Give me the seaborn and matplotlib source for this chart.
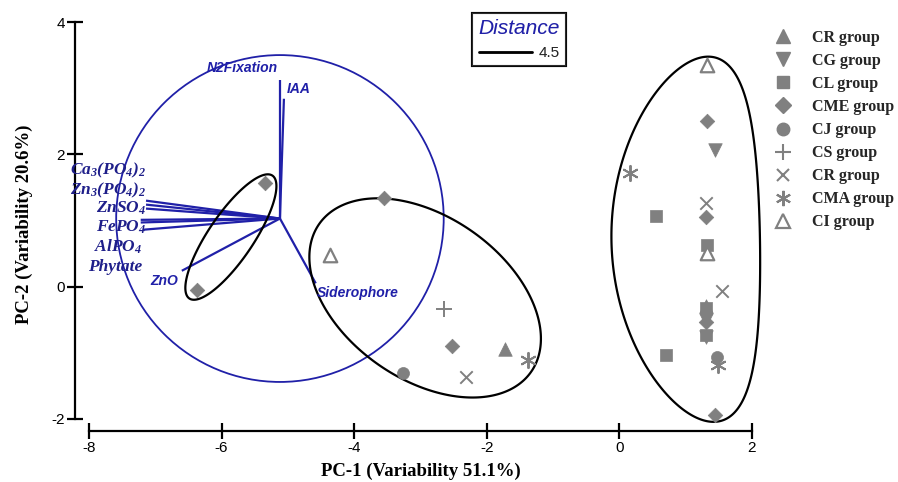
import matplotlib
matplotlib.use("Agg")
import matplotlib.pyplot as plt
import seaborn as sns
import pandas as pd
import numpy as np
from matplotlib.patches import Ellipse, Polygon
from matplotlib.lines import Line2D

# ---------------- data ----------------
group_keys = ["CR_tri", "CG", "CL", "CME", "CJ", "CS", "CR_x", "CMA", "CI"]
group_labels = ["CR group", "CG group", "CL group", "CME group", "CJ group",
                "CS group", "CR group", "CMA group", "CI group"]

point_group = ["CME", "CME",
               "CME", "CI", "CS", "CME", "CR_tri", "CMA", "CJ", "CR_x",
               "CI", "CME", "CG", "CMA", "CR_x", "CME", "CL", "CL", "CI", "CR_x",
               "CL", "CR_tri", "CME", "CG", "CL", "CG", "CL", "CJ", "CMA", "CME"]
pc1 = [-5.35, -6.37,
       -3.55, -4.37, -2.65, -2.52, -1.73, -1.38, -3.26, -2.31,
       1.32, 1.32, 1.44, 0.16, 1.30, 1.30, 0.55, 1.32, 1.32, 1.55,
       1.30, 1.30, 1.30, 1.30, 1.30, 1.30, 0.70, 1.47, 1.49, 1.44]
pc2 = [1.57, -0.05,
       1.34, 0.48, -0.34, -0.90, -0.94, -1.11, -1.30, -1.37,
       3.35, 2.50, 2.07, 1.72, 1.26, 1.06, 1.07, 0.63, 0.51, -0.07,
       -0.32, -0.29, -0.53, -0.50, -0.73, -0.76, -1.03, -1.06, -1.18, -1.94]

# loading vectors (drawn from the biplot origin)
var_names = ["N2Fixation", "IAA", "Siderophore", "ZnO",
             r"$Ca_3(PO_4)_2$", r"$Zn_3(PO_4)_2$", r"$ZnSO_4$",
             r"$FePO_4$", r"$AlPO_4$", "Phytate"]
load_x = [0.00, 0.06, 0.54, -1.48, -2.02, -2.02, -2.02, -2.10, -2.10, -2.07]
load_y = [2.09, 1.81, -0.98, -0.79, 0.27, 0.21, 0.15, -0.02, -0.06, -0.17]
origin = (-5.12, 1.03)
circle_r = 2.47

# cluster contours: centre x, centre y, semi-major, semi-minor, angle, bend
ell_cx = [-5.86, -2.93, 1.00]
ell_cy = [0.75, -0.17, 0.71]
ell_a = [1.12, 1.95, 2.76]
ell_b = [0.34, 1.23, 1.12]
ell_ang = [56, -35, 91]
ell_bend = [0.0, 0.0, -0.38]

x_ticks = [-8, -6, -4, -2, 0, 2]
y_ticks = [-2, 0, 2, 4]

# ---------------- style ----------------
sns.set_theme(style="white")
plt.rcParams["font.family"] = ["Liberation Sans", "DejaVu Sans"]
plt.rcParams["mathtext.fontset"] = "custom"
plt.rcParams["mathtext.it"] = "Liberation Serif:italic:bold"
plt.rcParams["mathtext.rm"] = "Liberation Serif:italic:bold"
plt.rcParams["mathtext.bf"] = "Liberation Serif:italic:bold"

GREY = "#808080"
BLUE = "#2020a8"
NAVY = "#1f1f8a"

marker_spec = {
    "CR_tri": dict(marker="^", s=95, filled=True),
    "CG": dict(marker="v", s=95, filled=True),
    "CL": dict(marker="s", s=85, filled=True),
    "CME": dict(marker="D", s=55, filled=True),
    "CJ": dict(marker="o", s=75, filled=True),
    "CS": dict(marker="+", s=120, filled=False),
    "CR_x": dict(marker="x", s=80, filled=False),
    "CMA": dict(marker=(6, 2, 0), s=120, filled=False),
    "CI": dict(marker="^", s=95, filled="open"),
}

df = pd.DataFrame({"PC1": pc1, "PC2": pc2, "group": point_group})

fig = plt.figure(figsize=(8.98, 4.82), dpi=100)
W, H = 898, 482
ax = fig.add_axes([89 / W, (H - 419) / H, (752 - 89) / W, (419 - 22) / H])

# biplot circle and vectors
ax.add_patch(Ellipse(origin, 2 * circle_r, 2 * circle_r, fill=False,
                     edgecolor=BLUE, lw=1.3, zorder=1, clip_on=False))
for i, name in enumerate(var_names):
    ax.plot([origin[0], origin[0] + load_x[i]], [origin[1], origin[1] + load_y[i]],
            color=BLUE, lw=1.6, zorder=2, solid_capstyle="butt")

# cluster contours
t = np.linspace(0, 2 * np.pi, 400)
for cx, cy, a, b, ang, bend in zip(ell_cx, ell_cy, ell_a, ell_b, ell_ang, ell_bend):
    u = a * np.cos(t)
    v = b * np.sin(t) + bend * np.cos(t) ** 2
    th = np.deg2rad(ang)
    xs = cx + u * np.cos(th) - v * np.sin(th)
    ys = cy + u * np.sin(th) + v * np.cos(th)
    ax.add_patch(Polygon(np.column_stack([xs, ys]), closed=True, fill=False,
                         edgecolor="black", lw=1.6, zorder=3, clip_on=False))

# points
for key in group_keys:
    sub = df[df["group"] == key]
    if sub.empty:
        continue
    spec = marker_spec[key]
    if spec["filled"] is True:
        sns.scatterplot(data=sub, x="PC1", y="PC2", marker=spec["marker"], s=spec["s"],
                        color=GREY, edgecolor=GREY, linewidth=0.5, ax=ax, zorder=5,
                        clip_on=False, legend=False)
    elif spec["filled"] == "open":
        sns.scatterplot(data=sub, x="PC1", y="PC2", marker=spec["marker"], s=spec["s"],
                        color="white", edgecolor=GREY, linewidth=1.6, ax=ax, zorder=5,
                        clip_on=False, legend=False)
    else:
        sns.scatterplot(data=sub, x="PC1", y="PC2", marker=spec["marker"], s=spec["s"],
                        color=GREY, linewidth=1.4, ax=ax, zorder=5,
                        clip_on=False, legend=False)

# variable labels
sans_lab = dict(family="Liberation Sans", style="italic", weight="bold", size=10, color=BLUE)
ends_x = [origin[0] + v for v in load_x]
ends_y = [origin[1] + v for v in load_y]
ax.text(ends_x[0] - 0.03, ends_y[0] + 0.18, var_names[0], ha="right", va="center", **sans_lab)
ax.text(ends_x[1] + 0.05, ends_y[1] + 0.15, var_names[1], ha="left", va="center", **sans_lab)
ax.text(ends_x[2] + 0.02, ends_y[2] - 0.14, var_names[2], ha="left", va="center", **sans_lab)
ax.text(ends_x[3] - 0.06, ends_y[3] - 0.15, var_names[3], ha="right", va="center", **sans_lab)

serif_lab = dict(family="Liberation Serif", style="italic", weight="bold", size=12.5, color=NAVY)
label_x = [-7.14, -7.14, -7.14, -7.14, -7.2, -7.2]
label_y = [1.75, 1.46, 1.19, 0.90, 0.60, 0.30]
for name, lx, ly in zip(var_names[4:], label_x, label_y):
    ax.text(lx, ly, name, ha="right", va="center", **serif_lab)

# axes
ax.set_xlim(-8, 2)
ax.set_ylim(-2, 4)
ax.set_xticks(x_ticks)
ax.set_yticks(y_ticks)
ax.set_xticklabels([str(t) for t in x_ticks])
ax.set_yticklabels([str(t) for t in y_ticks])
for side in ["top", "right"]:
    ax.spines[side].set_visible(False)
ax.spines["left"].set_position(("outward", 10))
ax.spines["bottom"].set_position(("outward", 8.6))
for side in ["left", "bottom"]:
    ax.spines[side].set_linewidth(1.6)
    ax.spines[side].set_color("black")
ax.tick_params(axis="both", which="major", direction="inout", length=11, width=1.6,
               labelsize=11, colors="black", pad=2, left=True, bottom=True)
ax.set_xlabel("PC-1 (Variability 51.1%)", family="Liberation Serif", weight="bold",
              size=13.5, color="black")
ax.set_ylabel("PC-2 (Variability 20.6%)", family="Liberation Serif", weight="bold",
              size=13.5, color="black")
ax.xaxis.set_label_coords(0.5, -0.11)
ax.yaxis.set_label_coords(-0.085, 0.49)
ax.grid(False)
ax.set_facecolor("white")

# distance legend
dist_leg = ax.legend([Line2D([], [], color="black", lw=2)], ["4.5"], title="Distance",
                     loc="upper left", bbox_to_anchor=(472 / W, 1 - 13 / H),
                     bbox_transform=fig.transFigure, frameon=True, fancybox=False,
                     edgecolor="black", fontsize=11, handlelength=3.5, handletextpad=0.4,
                     borderpad=0.42, borderaxespad=0,
                     title_fontproperties={"family": "Liberation Sans", "style": "italic",
                                           "size": 15})
dist_leg.get_title().set_color(BLUE)
dist_leg.get_frame().set_linewidth(1.5)
ax.add_artist(dist_leg)

# group legend
handles = []
for key in group_keys:
    spec = marker_spec[key]
    ms = {"D": 8, "s": 9, "o": 9, "+": 11, "x": 9}.get(spec["marker"], 10.5) \
        if not isinstance(spec["marker"], tuple) else 11
    if spec["filled"] is True:
        h = Line2D([], [], ls="none", marker=spec["marker"], ms=ms, color=GREY,
                   markeredgecolor=GREY)
    elif spec["filled"] == "open":
        h = Line2D([], [], ls="none", marker=spec["marker"], ms=ms, markerfacecolor="white",
                   markeredgecolor=GREY, markeredgewidth=1.6)
    else:
        h = Line2D([], [], ls="none", marker=spec["marker"], ms=ms, color=GREY,
                   markeredgewidth=1.5)
    handles.append(h)
fig.legend(handles, group_labels, loc="upper left", bbox_to_anchor=(775 / W, 1 - 30 / H),
           frameon=False, handlelength=1.0, handletextpad=1.3, labelspacing=0.44,
           borderpad=0, borderaxespad=0,
           prop={"family": "Liberation Serif", "weight": "bold", "size": 11.5})

fig.savefig("out.png", dpi=100, facecolor="white")
